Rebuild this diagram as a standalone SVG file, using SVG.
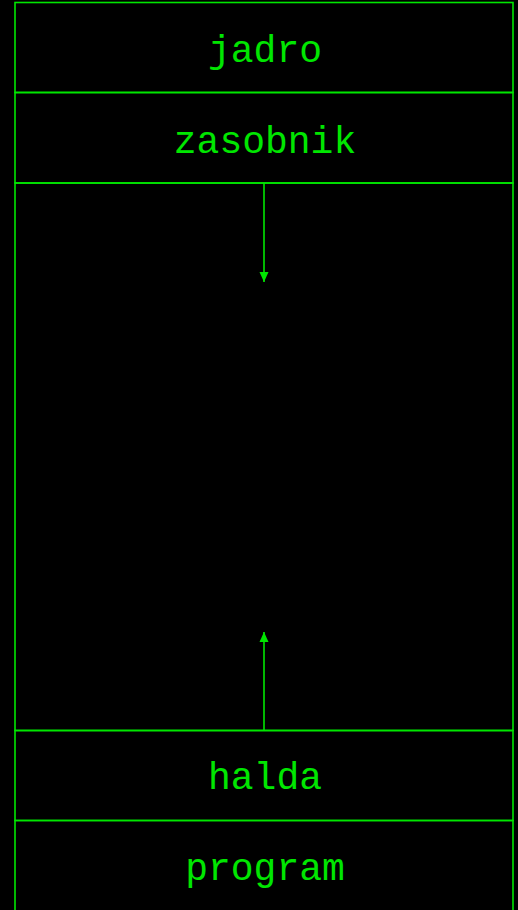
<svg xmlns="http://www.w3.org/2000/svg" width="518" height="910" viewBox="0 0 518 910">
<style>
.box{fill:none;stroke:#00e600;stroke-width:1.6}
.lbl{fill:#00e600;font-family:"Liberation Mono","Courier New",monospace;font-size:38px;text-anchor:middle}
.con{stroke:#00e600;stroke-width:1.6;fill:none}
</style>
<defs>
<marker id="ah" viewBox="0 0 10 14" refX="10" refY="7" markerWidth="10" markerHeight="14" markerUnits="userSpaceOnUse" orient="auto">
<path d="M0,2.5 L10,7 L0,11.5 Z" fill="#00e600"/>
</marker>
</defs>
<rect width="518" height="910" fill="#000"/>
<g id="jadro">
<rect class="box" x="15" y="2.5" width="498" height="90"/>
<text class="lbl" x="265" y="62">jadro</text>
</g>
<g id="zasobnik">
<rect class="box" x="15" y="92.5" width="498" height="90.5"/>
<text class="lbl" x="265" y="153">zasobnik</text>
</g>
<g id="volne">
<rect class="box" x="15" y="183" width="498" height="547.5"/>
</g>
<g id="halda">
<rect class="box" x="15" y="730.5" width="498" height="90"/>
<text class="lbl" x="265" y="789">halda</text>
</g>
<g id="program">
<path class="box" d="M15,920 L15,820.5 L513,820.5 L513,920"/>
<text class="lbl" x="265" y="880">program</text>
</g>
<g id="connectors">
<line class="con" x1="264" y1="183" x2="264" y2="282" marker-end="url(#ah)"/>
<line class="con" x1="264" y1="730.5" x2="264" y2="632" marker-end="url(#ah)"/>
</g>
</svg>
